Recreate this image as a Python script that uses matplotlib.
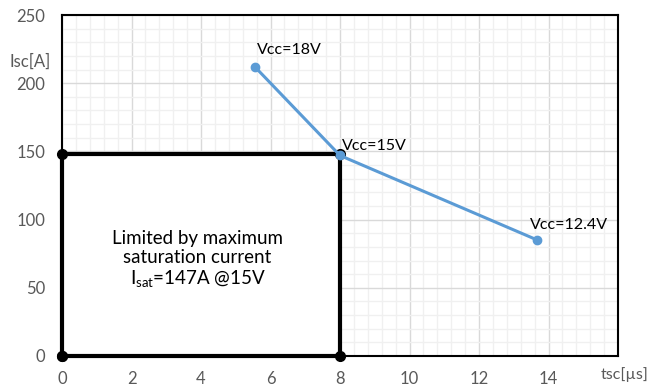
import matplotlib.pyplot as plt
from matplotlib.ticker import MultipleLocator

# short-circuit withstand points
tsc = [5.55, 8.0, 13.68]
isc = [212, 147, 85]
vcc_labels = ["Vcc=18V", "Vcc=15V", "Vcc=12.4V"]

# saturation-limited box
box_t = [0, 0, 8, 8]
box_i = [0, 148, 148, 0]

xticks = [0, 2, 4, 6, 8, 10, 12, 14]
yticks = [0, 50, 100, 150, 200, 250]

plt.rcParams['font.family'] = ['Lato', 'DejaVu Sans']

fig = plt.figure(figsize=(6.52, 3.89), dpi=100)
ax = fig.add_axes([62 / 652, 1 - 356 / 389, (618 - 62) / 652, (356 - 15) / 389])

ax.set_xlim(0, 16)
ax.set_ylim(0, 250)
ax.set_xticks(xticks)
ax.set_yticks(yticks)
ax.xaxis.set_minor_locator(MultipleLocator(0.4))
ax.yaxis.set_minor_locator(MultipleLocator(10))
ax.grid(which='major', color='#d9d9d9', linewidth=1.0)
ax.grid(which='minor', color='#f0f0f0', linewidth=1.0)
ax.set_axisbelow(True)
ax.tick_params(which='both', length=0, labelsize=12, labelcolor='#595959')
ax.tick_params(axis='y', pad=12)
ax.tick_params(axis='x', pad=11)

for s in ax.spines.values():
    s.set_color('black')
    s.set_linewidth(1.5)

# white box hides grid, then black outline
ax.fill(box_t, box_i, color='white', zorder=2)
ax.plot(box_t + [box_t[0]], box_i + [box_i[0]], color='black', linewidth=3,
        marker='o', markersize=7, zorder=3, clip_on=False)

ax.plot(tsc, isc, color='#5b9bd5', linewidth=2.2, marker='o', markersize=6, zorder=4)

ax.text(tsc[0] + 0.05, isc[0] + 7, vcc_labels[0], fontsize=11.5, va='bottom', ha='left', zorder=5)
ax.text(tsc[1] + 0.05, isc[1] + 2, vcc_labels[1], fontsize=11.5, va='bottom', ha='left', zorder=5)
ax.text(tsc[2] - 0.2, isc[2] + 6, vcc_labels[2], fontsize=11.5, va='bottom', ha='left', zorder=5)

ax.text(3.9, 70.5, "Limited by maximum\nsaturation current\nI$_\\mathregular{sat}$=147A @15V",
        fontsize=13.5, ha='center', va='center', linespacing=1.15, zorder=5)

fig.text(30 / 652, 1 - 62 / 389, "Isc[A]", fontsize=12, color='#595959', ha='center', va='center')
fig.text(649 / 652, 1 - 375 / 389, "tsc[µs]", fontsize=11.5, color='#595959', ha='right', va='center')

fig.savefig("out.png", dpi=100)
